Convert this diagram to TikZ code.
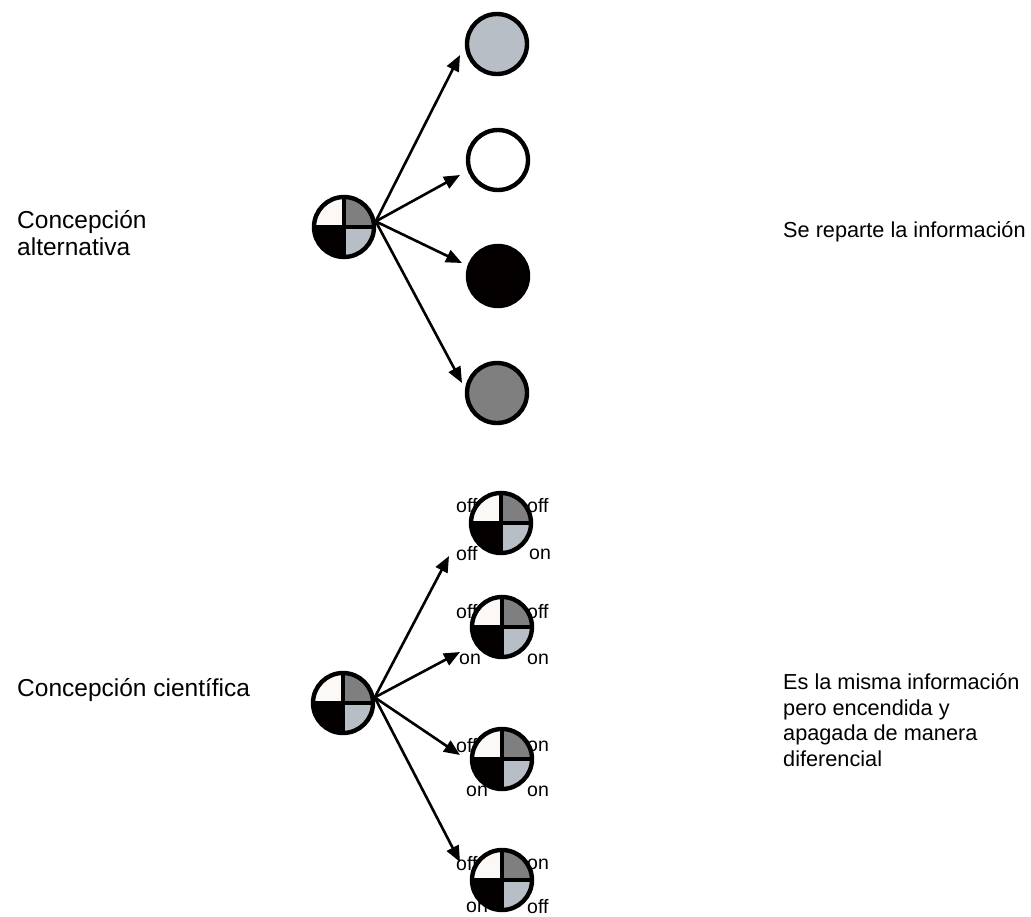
\documentclass[tikz,border=0pt]{standalone}
\usepackage{fontspec}
\setmainfont{Liberation Sans}
\usetikzlibrary{arrows.meta}
\definecolor{qwhite}{HTML}{FCF8F6}
\definecolor{qgray}{HTML}{7F7F7F}
\definecolor{qblack}{HTML}{050000}
\definecolor{qlight}{HTML}{B7BEC6}
\begin{document}
\begin{tikzpicture}[x=1pt,y=-1pt,
  disc/.style={circle, draw=black, line width=4.4pt, minimum size=60pt, inner sep=0pt},
  quartered/.style={disc, path picture={
    \fill[qwhite] (path picture bounding box.center) rectangle (path picture bounding box.north west);
    \fill[qgray] (path picture bounding box.center) rectangle (path picture bounding box.north east);
    \fill[qblack] (path picture bounding box.center) rectangle (path picture bounding box.south west);
    \fill[qlight] (path picture bounding box.center) rectangle (path picture bounding box.south east);
    \draw[line width=3.6pt] (path picture bounding box.north) -- (path picture bounding box.south)
      (path picture bounding box.west) -- (path picture bounding box.east);}},
  arr/.style={line width=2.6pt, -{Triangle[length=16pt,width=13pt]}},
  ltxt/.style={anchor=west, inner sep=0pt, align=left, font=\fontsize{24.5}{26.5}\selectfont},
  rtxt/.style={anchor=west, inner sep=0pt, align=left, font=\fontsize{21.7}{25.7}\selectfont},
  st/.style={anchor=west, inner sep=0pt, font=\fontsize{19.5}{21}\selectfont}]
\useasboundingbox[fill=white] (0,0) rectangle (1031,916);

% texts
\node[ltxt] (lab1) at (17,233) {Concepción\\alternativa};
\node[rtxt] (lab2) at (783,232) {Se reparte la información};
\node[ltxt] (lab3) at (17,690) {Concepción científica};
\node[rtxt] (lab4) at (783,720) {Es la misma información\\pero encendida y\\apagada de manera\\diferencial};

% upper group
\node[quartered] (s1) at (344,227) {};
\node[disc, fill=qlight] (t1) at (497,44) {};
\node[disc, fill=white] (t2) at (498,160) {};
\node[disc, fill=qblack] (t3) at (498,276) {};
\node[disc, fill=qgray] (t4) at (497,393) {};
\coordinate (a1) at (460,55);
\coordinate (a2) at (460,175);
\coordinate (a3) at (462,263);
\coordinate (a4) at (462,383);
\foreach \t in {a1,a2,a3,a4} \draw[arr] (s1.10) -- (\t);

% lower group: on/off labels (behind the discs)
\node[st] (la1) at (456,506) {off};
\node[st] (la2) at (527,506) {off};
\node[st] (la3) at (456,554) {off};
\node[st] (la4) at (529,554) {on};
\node[st] (lb1) at (456,612) {off};
\node[st] (lb2) at (527,612) {off};
\node[st] (lb3) at (459,659) {on};
\node[st] (lb4) at (527,659) {on};
\node[st] (lc1) at (456,746) {off};
\node[st] (lc2) at (527,746) {on};
\node[st] (lc3) at (466,791) {on};
\node[st] (lc4) at (527,791) {on};
\node[st] (ld1) at (456,864) {off};
\node[st] (ld2) at (527,864) {on};
\node[st] (ld3) at (466,907) {on};
\node[st] (ld4) at (527,907) {off};

\node[quartered] (s2) at (343,703) {};
\node[quartered] (u1) at (501,523) {};
\node[quartered] (u2) at (502,627) {};
\node[quartered] (u3) at (502,759) {};
\node[quartered] (u4) at (502,880) {};
\coordinate (b1) at (449,556);
\coordinate (b2) at (460,652);
\coordinate (b3) at (460,755);
\coordinate (b4) at (460,862);
\foreach \t in {b1,b2,b3,b4} \draw[arr] (s2.10) -- (\t);
\end{tikzpicture}
\end{document}
